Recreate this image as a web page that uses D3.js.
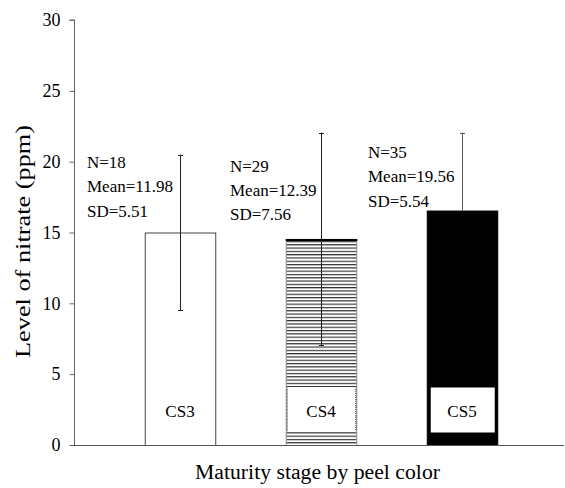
<!DOCTYPE html>
<html><head><meta charset="utf-8">
<script src="https://cdn.jsdelivr.net/npm/d3@7/dist/d3.min.js"></script>
<style>body{margin:0;background:#fff}svg{display:block}text{font-family:"Liberation Serif","Times New Roman",serif;fill:#000}</style>
</head><body><svg id="c" width="565" height="488"></svg>
<script>
const categories = ["CS3", "CS4", "CS5"];
const barValues = [15.0, 14.55, 16.55];
const errValues = [5.5, 7.5, 5.5];
const nLabels = ["N=18", "N=29", "N=35"];
const meanLabels = ["Mean=11.98", "Mean=12.39", "Mean=19.56"];
const sdLabels = ["SD=5.51", "SD=7.56", "SD=5.54"];
const yTicks = [0, 5, 10, 15, 20, 25, 30];

const svg = d3.select("#c");
const y = d3.scaleLinear().domain([0, 30]).range([445, 20]);
const x = d3.scaleBand().domain(categories).range([109.5, 532.5]).paddingInner(0.5).paddingOuter(0.25);

const defs = svg.append("defs");
const pat = defs.append("pattern").attr("id", "hatch").attr("patternUnits", "userSpaceOnUse")
  .attr("width", 8).attr("height", 3.3);
pat.append("rect").attr("width", 8).attr("height", 3.3).attr("fill", "#fff");
pat.append("line").attr("x1", 0).attr("x2", 8).attr("y1", 0.6).attr("y2", 0.6).attr("stroke", "#222").attr("stroke-width", 1.1);

const fills = ["#fff", "url(#hatch)", "#000"];
const strokes = ["#444", "#888", "#000"];

// bars
categories.forEach((c, i) => {
  const bx = x(c), bw = x.bandwidth();
  svg.append("rect").attr("x", bx + 0.5).attr("y", y(barValues[i]) + 0.5)
    .attr("width", bw).attr("height", y(0) - y(barValues[i]))
    .attr("fill", fills[i]).attr("stroke", strokes[i]).attr("stroke-width", 1);
  if (i === 1) {
    svg.append("line").attr("x1", bx).attr("x2", bx + bw + 1).attr("y1", y(barValues[i]) + 1).attr("y2", y(barValues[i]) + 1)
      .attr("stroke", "#000").attr("stroke-width", 2);
  }
});

// error bars
categories.forEach((c, i) => {
  const cx = Math.round(x(c) + x.bandwidth() / 2) + 0.5;
  const top = y(barValues[i] + errValues[i]);
  const bot = i === 2 ? y(barValues[i]) : y(barValues[i] - errValues[i]);
  const col = i === 2 ? "#555" : "#222";
  svg.append("line").attr("x1", cx).attr("x2", cx).attr("y1", top).attr("y2", bot).attr("stroke", col);
  svg.append("line").attr("x1", cx - 2.5).attr("x2", cx + 2.5).attr("y1", Math.round(top) + 0.5).attr("y2", Math.round(top) + 0.5).attr("stroke", col);
  if (i !== 2) svg.append("line").attr("x1", cx - 2.5).attr("x2", cx + 2.5).attr("y1", Math.round(bot) + 0.5).attr("y2", Math.round(bot) + 0.5).attr("stroke", col);
});

// label boxes
categories.forEach((c, i) => {
  const bx = x(c), bw = x.bandwidth();
  const cx = bx + bw / 2;
  if (i > 0) {
    const bxl = i === 1 ? bx + 1.5 : bx + 4;
    const bwl = i === 1 ? bw - 2 : bw - 6.5;
    svg.append("rect").attr("x", bxl).attr("y", 387.5).attr("width", bwl).attr("height", i === 1 ? 44 : 45)
      .attr("fill", "#fff").attr("stroke", i === 1 ? "#555" : "none").attr("stroke-dasharray", i === 1 ? "1,1" : null)
      .attr("stroke-width", 1);
    if (i === 1) {
      svg.append("line").attr("x1", bxl).attr("x2", bxl + bwl).attr("y1", 387.5).attr("y2", 387.5).attr("stroke", "#fff").attr("stroke-width", 1);
      svg.append("line").attr("x1", bxl).attr("x2", bxl + bwl).attr("y1", 431.5).attr("y2", 431.5).attr("stroke", "#fff").attr("stroke-width", 1);
    }
  }
  svg.append("text").attr("x", cx).attr("y", 417).attr("text-anchor", "middle").attr("font-size", 17).text(c);
});

// annotations
const annX = [87, 230, 368];
const annY = [168, 171.5, 158];
categories.forEach((c, i) => {
  [nLabels[i], meanLabels[i], sdLabels[i]].forEach((t, j) => {
    svg.append("text").attr("x", annX[i]).attr("y", annY[i] + j * 24.3).attr("font-size", 17).text(t);
  });
});

// axes
const yAxis = svg.append("g").attr("transform", "translate(74.5,0)")
  .call(d3.axisLeft(y).tickValues(yTicks).tickSize(5).tickPadding(9).tickFormat(d3.format("d")));
yAxis.select(".domain").attr("stroke", "#666").attr("d", `M-5,${y(30)}H0V${y(0)}`);
yAxis.selectAll(".tick line").attr("stroke", "#666");
yAxis.selectAll(".tick text").attr("font-size", 18).attr("font-family", "Liberation Serif").attr("fill", "#000");

svg.append("line").attr("x1", 70).attr("x2", 564).attr("y1", 445.5).attr("y2", 445.5).attr("stroke", "#555").attr("stroke-width", 1.2);

svg.append("text").attr("transform", "translate(30,241.5) rotate(-90)").attr("text-anchor", "middle")
  .attr("font-size", 22).attr("textLength", 233).attr("lengthAdjust", "spacingAndGlyphs")
  .text("Level of nitrate (ppm)");
svg.append("text").attr("x", 317.5).attr("y", 479).attr("text-anchor", "middle").attr("font-size", 20.5)
  .attr("textLength", 245).attr("lengthAdjust", "spacingAndGlyphs")
  .text("Maturity stage by peel color");
</script></body></html>
